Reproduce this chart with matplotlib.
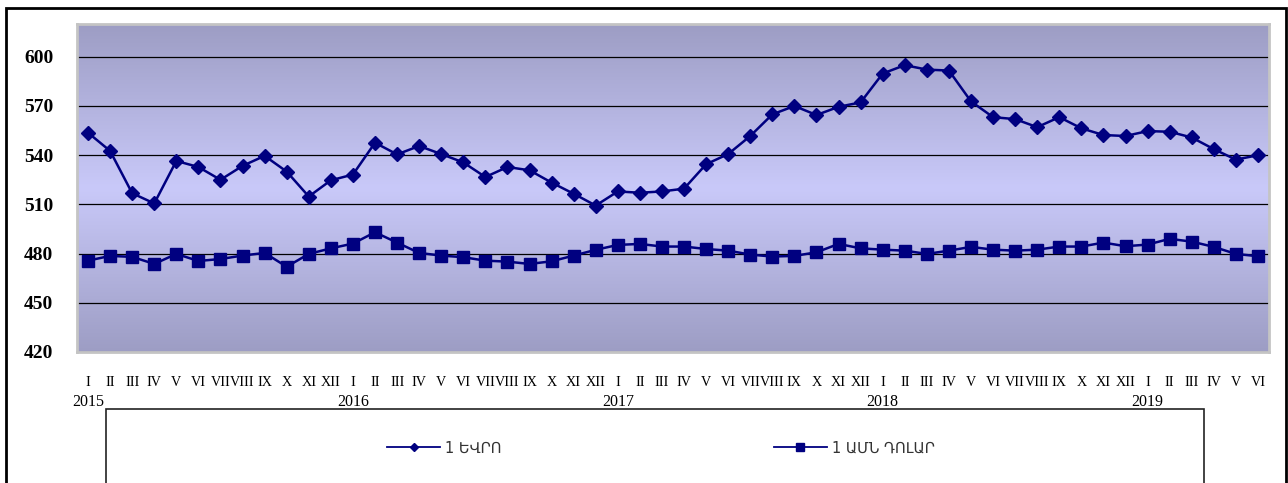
import numpy as np
import matplotlib
matplotlib.use('Agg')
import matplotlib.pyplot as plt
from matplotlib.colors import LinearSegmentedColormap
from matplotlib.patches import Rectangle

# data (AMD per 1 EUR / 1 USD, monthly I.2015 - VI.2019)
months = ['I', 'II', 'III', 'IV', 'V', 'VI', 'VII', 'VIII', 'IX', 'X', 'XI', 'XII']
years = ['2015', '2016', '2017', '2018', '2019']
month_labels = months * 4 + months[:6]

eur = [553.7, 542.6, 516.8, 510.6, 536.5, 532.8, 525.0, 533.5, 539.6, 530.0, 514.8, 524.7,
       528.2, 547.6, 540.5, 545.6, 540.7, 535.6, 526.7, 532.8, 530.8, 523.3, 516.5, 509.3,
       517.9, 517.1, 517.9, 519.6, 534.5, 540.7, 551.7, 564.9, 570.0, 564.5, 569.5, 572.2,
       589.8, 594.9, 592.2, 591.6, 572.8, 563.2, 562.0, 557.1, 563.2, 556.4, 552.3, 551.7,
       554.7, 554.3, 550.8, 543.7, 537.3, 540.0]
usd = [475.7, 478.6, 478.0, 473.7, 479.8, 475.5, 476.7, 478.8, 480.4, 472.0, 479.8, 483.2,
       486.1, 493.0, 486.7, 480.4, 478.8, 477.8, 475.7, 475.1, 473.7, 475.3, 478.8, 482.3,
       485.3, 485.9, 484.3, 484.3, 482.8, 481.8, 479.4, 478.2, 478.6, 480.8, 485.9, 483.2,
       482.4, 481.8, 479.8, 481.8, 484.1, 482.4, 481.8, 482.4, 484.3, 484.3, 486.7, 484.5,
       485.5, 489.0, 487.3, 484.1, 479.8, 478.4]

x = np.arange(len(eur))
navy = '#000080'

fig = plt.figure(figsize=(12.88, 4.83), dpi=100)
ax = fig.add_axes([77 / 1288, 1 - 352 / 483, 1192 / 1288, 328 / 483])

# vertical gradient background: darker at edges, light in the middle
cmap = LinearSegmentedColormap.from_list('bg', ['#9d9dc4', '#c9c9f9', '#9d9dc4'])
grad = np.linspace(0, 1, 256).reshape(-1, 1)
ax.imshow(grad, cmap=cmap, aspect='auto', extent=(0, 1, 0, 1),
          transform=ax.transAxes, zorder=0)

ax.plot(x, eur, color=navy, lw=1.8, marker='D', ms=6.8, label='1 ԵՎՐՈ', zorder=3)
ax.plot(x, usd, color=navy, lw=1.8, marker='s', ms=8, label='1 ԱՄՆ ԴՈԼԱՐ', zorder=3)

ax.set_xlim(-0.5, len(eur) - 0.5)
ax.set_ylim(420, 620)
ax.set_yticks(range(420, 601, 30))
ax.yaxis.grid(True, color='black', lw=0.9, zorder=1)

# month numerals as major ticks, years as minor ticks under each January
ax.xaxis.remove_overlapping_locs = False
ax.set_xticks(x, month_labels)
ax.set_xticks(np.arange(0, len(eur), 12), years, minor=True)
ax.tick_params(axis='x', which='major', length=0, pad=17)
ax.tick_params(axis='x', which='minor', length=0, pad=30)
ax.tick_params(axis='y', length=0, pad=17)
for lab in ax.get_xticklabels():
    lab.set_fontfamily('Liberation Serif')
    lab.set_fontsize(10.2)
for lab in ax.get_xticklabels(minor=True):
    lab.set_fontfamily('Liberation Serif')
    lab.set_fontsize(11.5)
for lab in ax.get_yticklabels():
    lab.set_fontfamily('Liberation Serif')
    lab.set_fontsize(14)
    lab.set_fontweight('bold')

for s in ax.spines.values():
    s.set_color('#c4c4c4')
    s.set_linewidth(2)

# outer frame and legend box
fig.patches.append(Rectangle((6 / 1288, -0.1), 1280 / 1288, 1.1 - 8 / 483,
                             transform=fig.transFigure, fill=False,
                             edgecolor='black', lw=2))
fig.patches.append(Rectangle((106 / 1288, -0.1), 1098 / 1288, 0.1 + 1 - 409 / 483,
                             transform=fig.transFigure, fill=False,
                             edgecolor='#222222', lw=1.2))

leg = fig.legend(loc='center', bbox_to_anchor=(661 / 1288, 1 - 448 / 483), ncol=2,
                 frameon=False, prop={'family': 'DejaVu Sans', 'size': 10.5},
                 handlelength=3.6, handletextpad=0.35, columnspacing=18.7,
                 markerscale=0.65)
for t in leg.get_texts():
    t.set_color('#333333')
for h in leg.legend_handles:
    h.set_linewidth(1.3)

fig.savefig('out.png', dpi=100)
